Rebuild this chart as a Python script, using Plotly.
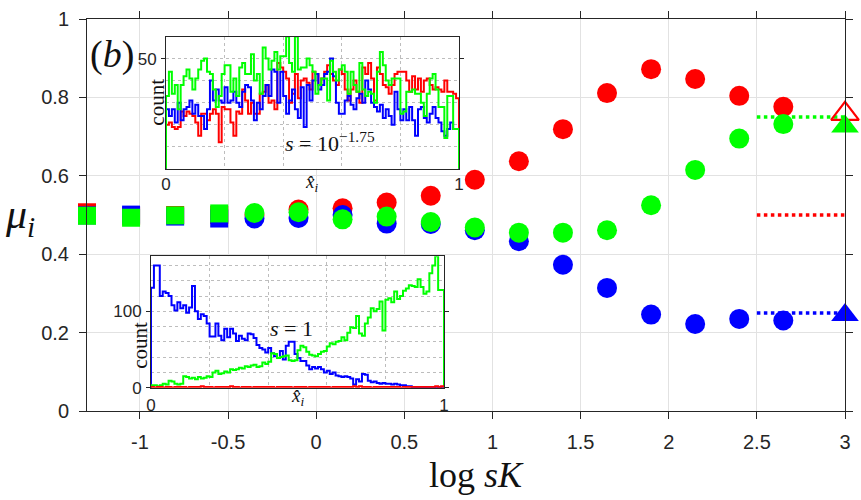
import plotly.graph_objects as go

# ---------------- main panel data ----------------
x_sq = [-1.3, -1.05, -0.8, -0.55]
x_ci = [-0.35, -0.1, 0.15, 0.4, 0.65, 0.9, 1.15, 1.4, 1.65, 1.9, 2.15, 2.4, 2.65]
red_sq = [0.507, 0.497, 0.500, 0.500]
blue_sq = [0.499, 0.501, 0.496, 0.491]
green_sq = [0.498, 0.493, 0.499, 0.504]
red_ci = [0.500, 0.514, 0.517, 0.532, 0.549, 0.590, 0.637, 0.719, 0.811, 0.872, 0.847, 0.804, 0.776]
blue_ci = [0.491, 0.4925, 0.500, 0.478, 0.477, 0.461, 0.433, 0.373, 0.314, 0.246, 0.222, 0.235, 0.231]
green_ci = [0.505, 0.507, 0.489, 0.496, 0.482, 0.468, 0.455, 0.455, 0.461, 0.525, 0.615, 0.695, 0.732]
x_lim = [2.5, 3.0]
red_lim = 0.5
green_lim = 0.75
blue_lim = 0.25
x_tri = 3.0
red_tri = 0.758
green_tri = 0.726
blue_tri = 0.245

x_ticks = [-1, -0.5, 0, 0.5, 1, 1.5, 2, 2.5, 3]
x_ticktext = ["-1", "-0.5", "0", "0.5", "1", "1.5", "2", "2.5", "3"]
y_ticks = [0, 0.2, 0.4, 0.6, 0.8, 1]
y_ticktext = ["0", "0.2", "0.4", "0.6", "0.8", "1"]

# ---------------- top inset: s = 10^-1.75 (100 bins) ----------------
top_red = [20, 21, 19, 18, 19, 26, 24, 26, 25, 24, 21, 15, 25, 25, 22, 25, 27, 25, 12, 28,
           27, 27, 21, 15, 26, 25, 36, 31, 25, 30, 25, 25, 34,
           35, 38, 30, 31, 27, 48, 46, 44, 41, 30, 34, 43, 32, 40, 41, 39, 36, 44, 43, 38,
           41, 44, 47, 43, 40, 38, 45, 43, 36, 31, 36, 40, 35, 30,
           46, 43, 48, 41, 31, 46, 43, 38, 37, 34, 38, 43, 44, 44, 44, 40, 35, 42, 36, 41,
           35, 40, 41, 38, 36, 37, 36, 35, 40, 35, 35, 34, 32]
top_blue = [27, 24, 27, 21, 30, 22, 27, 28, 31, 25, 29, 24, 24, 18, 27, 40, 31, 36, 31, 30,
            37, 30, 31, 35, 30, 28, 35, 38, 37, 31, 22, 30, 27,
            33, 38, 33, 45, 44, 30, 44, 33, 25, 31, 36, 27, 23, 37, 19, 38, 31, 40, 43, 36,
            38, 43, 44, 50, 42, 30, 25, 25, 31, 33, 29, 27, 32, 34,
            30, 40, 36, 30, 28, 26, 29, 23, 27, 24, 20, 35, 27, 22, 27, 22, 28, 22, 15, 27,
            28, 23, 21, 25, 28, 23, 21, 17, 15, 18, 21, 18, 18]
top_green = [33, 44, 34, 38, 27, 38, 42, 45, 41, 36, 41, 45, 49, 50, 44, 43, 36, 28, 33, 43,
             47, 47, 35, 41, 33, 46, 48, 43, 43, 52, 40, 43, 34,
             55, 50, 45, 49, 53, 45, 51, 51, 60, 48, 44, 60, 45, 46, 46, 50, 47, 44, 34, 38,
             41, 41, 31, 49, 44, 40, 45, 47, 44, 34, 44, 38, 35, 48,
             36, 33, 35, 34, 30, 44, 53, 47, 40, 38, 41, 41, 41, 25, 26, 35, 35, 36, 34, 34,
             30, 24, 34, 41, 43, 36, 28, 28, 14, 33, 33, 18, 18]

# ---------------- bottom inset: s = 1 (100 bins) ----------------
bot_blue = [131, 160, 160, 120, 126, 124, 120, 108, 101, 112, 104, 108, 98, 105, 133, 100, 90, 96, 94, 84,
            67, 67, 84, 68, 62, 77, 66, 77, 71, 61, 68, 64, 62,
            71, 70, 65, 56, 52, 50, 46, 52, 45, 41, 39, 48, 37, 55, 60, 60, 44, 39, 35, 35,
            29, 24, 27, 25, 27, 24, 20,
            22, 18, 20, 16, 15, 14, 15, 14, 12, 4, 11, 8, 18, 17, 9, 7, 8, 6, 5, 6,
            5, 5, 4, 5, 4, 3, 3, 2, 2, 1, 1, 1, 1, 0, 1, 1, 1, 0, 1, 1]
bot_green = [3, 3, 2, 3, 5, 4, 9, 8, 5, 4, 5, 15, 14, 12, 13, 11, 14, 12, 13, 15,
             14, 20, 22, 18, 19, 21, 20, 24, 23, 24, 26, 25, 28, 27, 29, 30, 27, 28, 33, 31,
             34, 45, 44, 39, 40, 41, 42, 36, 35, 36, 49, 55, 53, 47, 43, 42, 41, 44, 47, 48,
             54, 58, 57, 60, 61, 66, 62, 72, 79, 78, 94, 71, 68, 84, 92, 104, 100, 103, 113, 75,
             115, 117, 112, 126, 116, 120, 127, 130, 134, 133, 132, 142, 132, 123, 126, 150, 160, 172, 128, 128]
bot_red = [1, 0, 1, 1, 0, 1, 1, 0, 1, 1, 1, 1, 0, 1, 1, 1, 1, 2, 1, 1,
           1, 0, 1, 1, 1, 1, 1, 2, 1, 1, 0, 1, 1, 1, 0, 1, 1, 1, 1, 1,
           1, 1, 0, 1, 1, 1, 1, 1, 0, 1, 1, 1, 1, 0, 1, 1, 1, 1, 1, 1,
           1, 0, 1, 1, 1, 1, 1, 1, 1, 2, 1, 2, 1, 1, 1, 0, 1, 1, 1, 1,
           1, 1, 1, 1, 1, 0, 1, 1, 1, 1, 1, 1, 1, 1, 1, 1, 1, 2, 1, 2]

RED, GREEN, BLUE = "#ff0000", "#00ff00", "#0000ff"
AX = "#262626"
SERIF = "Liberation Serif, Times New Roman, serif"
SANS = "Liberation Sans, Arial, sans-serif"

# pixel frame of main axes
L, R, T, B = 87, 845, 8, 411
W, H = R - L, B - T


def P(px, py):
    return (px - L) / W, (B - py) / H


def outline(counts):
    n = len(counts)
    xs = [0.0] + [i / n for i in range(n)] + [1.0]
    ys = [0] + list(counts) + [0]
    return xs, ys


fig = go.Figure()

# main markers
for xs, ys, col in [(x_sq, red_sq, RED), (x_sq, blue_sq, BLUE), (x_sq, green_sq, GREEN)]:
    fig.add_trace(go.Scatter(x=xs, y=ys, mode="markers", cliponaxis=False,
                             marker=dict(symbol="square", size=18, color=col, line=dict(width=0)),
                             xaxis="x", yaxis="y", showlegend=False))
for xs, ys, col in [(x_ci, red_ci, RED), (x_ci, blue_ci, BLUE), (x_ci, green_ci, GREEN)]:
    fig.add_trace(go.Scatter(x=xs, y=ys, mode="markers", cliponaxis=False,
                             marker=dict(symbol="circle", size=20, color=col, line=dict(width=0)),
                             xaxis="x", yaxis="y", showlegend=False))
# dotted limit lines
for val, col in [(green_lim, GREEN), (red_lim, RED), (blue_lim, BLUE)]:
    fig.add_trace(go.Scatter(x=x_lim, y=[val, val], mode="lines", cliponaxis=False,
                             line=dict(color=col, width=3.5, dash="dot"),
                             xaxis="x", yaxis="y", showlegend=False))
# triangles
fig.add_trace(go.Scatter(x=[x_tri], y=[red_tri], mode="markers", cliponaxis=False,
                         marker=dict(symbol="triangle-up-open", size=24, color=RED, line=dict(width=2.2, color=RED)),
                         xaxis="x", yaxis="y", showlegend=False))
fig.add_trace(go.Scatter(x=[x_tri], y=[green_tri], mode="markers", cliponaxis=False,
                         marker=dict(symbol="triangle-up", size=24, color=GREEN, line=dict(width=0)),
                         xaxis="x", yaxis="y", showlegend=False))
fig.add_trace(go.Scatter(x=[x_tri], y=[blue_tri], mode="markers", cliponaxis=False,
                         marker=dict(symbol="triangle-up", size=24, color=BLUE, line=dict(width=0)),
                         xaxis="x", yaxis="y", showlegend=False))

# top inset histograms
for cnt, col in [(top_red, RED), (top_blue, BLUE), (top_green, GREEN)]:
    xs, ys = outline(cnt)
    fig.add_trace(go.Scatter(x=xs, y=ys, mode="lines", line=dict(color=col, width=2, shape="hv"),
                             xaxis="x2", yaxis="y2", showlegend=False))
# bottom inset histograms
for cnt, col in [(bot_blue, BLUE), (bot_green, GREEN), (bot_red, RED)]:
    xs, ys = outline(cnt)
    fig.add_trace(go.Scatter(x=xs, y=ys, mode="lines", line=dict(color=col, width=2, shape="hv"),
                             xaxis="x3", yaxis="y3", showlegend=False))

tx0, ty1 = P(166, 26)
tx1, ty0 = P(459, 162)
bx0, by1 = P(151, 252)
bx1, by0 = P(444, 387)

inset_common = dict(showline=True, linecolor=AX, linewidth=1, zeroline=False,
                    showgrid=True, gridcolor="#bdbdbd", griddash="dot", gridwidth=1,
                    tickfont=dict(family=SANS, size=17, color=AX))

main_common = dict(ticks="outside", ticklen=7, tickcolor=AX, showline=True, linecolor=AX, linewidth=1,
                   mirror="ticks", showgrid=True, gridcolor="#e2e2e2", griddash="solid", gridwidth=1,
                   zeroline=False, tickfont=dict(family=SANS, size=20, color=AX))

fig.update_layout(
    width=861, height=500,
    margin=dict(l=L, r=861 - R, t=T, b=500 - B),
    paper_bgcolor="white", plot_bgcolor="white",
    xaxis=dict(domain=[0, 1], range=[-1.3, 3], tickvals=x_ticks, ticktext=x_ticktext,
               ticklabelstandoff=6, **main_common),
    yaxis=dict(domain=[0, 1], range=[0, 1], tickvals=y_ticks, ticktext=y_ticktext,
               ticklabelstandoff=6, **main_common),
    xaxis2=dict(anchor="y2", domain=[tx0, tx1], range=[0, 1], tickvals=[0, 1], ticktext=["0", "1"],
                ticks="", mirror=True, ticklabelstandoff=0,
                minor=dict(dtick=0.2, tick0=0, showgrid=True, gridcolor="#bdbdbd", griddash="dot", ticks=""),
                **inset_common),
    yaxis2=dict(anchor="x2", domain=[ty0, ty1], range=[0, 60], tickvals=[50], ticktext=["50"],
                ticks="outside", ticklen=4, tickcolor=AX, mirror="ticks", ticklabelstandoff=1,
                minor=dict(dtick=10, tick0=0, showgrid=True, gridcolor="#bdbdbd", griddash="dot", ticks=""),
                **inset_common),
    xaxis3=dict(anchor="y3", domain=[bx0, bx1], range=[0, 1], tickvals=[0, 1], ticktext=["0", "1"],
                ticks="", mirror=True, ticklabelstandoff=2,
                minor=dict(dtick=0.2, tick0=0, showgrid=True, gridcolor="#bdbdbd", griddash="dot", ticks=""),
                **inset_common),
    yaxis3=dict(anchor="x3", domain=[by0, by1], range=[0, 172], tickvals=[0, 100], ticktext=["0", "100"],
                ticks="outside", ticklen=4, tickcolor=AX, mirror="ticks", ticklabelstandoff=1,
                minor=dict(dtick=20, tick0=0, showgrid=True, gridcolor="#bdbdbd", griddash="dot", ticks=""),
                **inset_common),
)

# white backgrounds for insets (cover the main grid)
fig.add_shape(type="rect", xref="x2", yref="y2", x0=0, x1=1, y0=0, y1=60, layer="below",
              fillcolor="white", line=dict(width=0))
fig.add_shape(type="rect", xref="x3", yref="y3", x0=0, x1=1, y0=0, y1=172, layer="below",
              fillcolor="white", line=dict(width=0))


def ann(px, py, text, size, angle=0, family=SERIF, pad=1):
    x, y = P(px, py)
    fig.add_annotation(x=x, y=y, xref="paper", yref="paper", text=text, showarrow=False,
                       xanchor="center", yanchor="middle", textangle=angle, borderpad=pad,
                       font=dict(family=family, size=size, color="#111111"))


ann(112, 44, "(<i>b</i>)", 38)
ann(476, 476.5, "log <i>sK</i>", 36, pad=0)
ann(20, 212, "<i>μ</i><sub><i>i</i></sub>", 42)
ann(330, 134, "<i>s</i> = 10<sup>−1.75</sup>", 22)
ann(291, 326, "<i>s</i> = 1", 22)
ann(157, 94, "count", 21, angle=-90)
ann(140, 344, "count", 21, angle=-90)
ann(311, 177, "<i>x\u0302</i><sub><i>i</i></sub>", 19)
ann(297, 397, "<i>x\u0302</i><sub><i>i</i></sub>", 19)

fig.write_html("out.html")
